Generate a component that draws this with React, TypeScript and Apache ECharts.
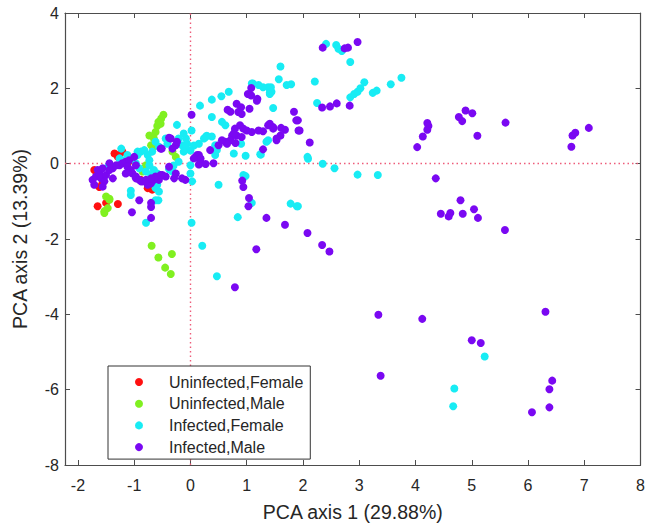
import React, { useEffect, useRef } from "react";
import * as echarts from "echarts";

const seriesNames = ["Uninfected,Female", "Uninfected,Male", "Infected,Female", "Infected,Male"];
const seriesColors = ["#ff1010", "#80f020", "#18ecf4", "#7a08f2"];

const xTicks = [-2, -1, 0, 1, 2, 3, 4, 5, 6, 7, 8];
const yTicks = [-8, -6, -4, -2, 0, 2, 4];

const uninfectedFemale: number[][] = [
  [-1.65, -1.13], [-1.5, -1.04], [-1.29, -1.07], [-1.35, 0.27], [-1.26, 0.23], [-1.21, 0.32],
  [-1.29, 0.18], [-1.71, -0.17], [-1.56, -0.5], [-1.62, -0.62], [-0.88, -0.43], [-0.76, -0.65],
  [-0.68, -0.69], [-1.1, 0.05],
];

const uninfectedMale: number[][] = [
  [-0.48, 1.3], [-0.52, 1.2], [-0.57, 1.11], [-0.59, 1.0], [-0.53, 1.06], [-0.62, 0.84],
  [-0.73, 0.75], [-0.65, 0.67], [-0.7, 0.49], [-0.65, 0.45], [-0.32, 0.32], [-0.26, 0.18],
  [-0.79, -0.04], [-0.85, -0.21], [-1.5, -0.87], [-1.44, -0.93], [-1.53, -1.26], [-1.47, -1.18],
  [-1.53, -1.31], [-1.44, -0.96], [-0.69, -2.18], [-0.57, -2.49], [-0.33, -2.4], [-0.45, -2.76],
  [-0.35, -2.93],
];

const infectedFemale: number[][] = [
  [2.41, 3.18], [2.59, 3.15], [2.63, 3.05], [2.69, 2.99], [2.84, 2.7], [2.21, 2.18], [2.25, 1.61],
  [2.84, 1.76], [2.91, 1.85], [2.97, 1.91], [3.02, 2.0], [3.09, 2.16], [3.24, 1.88], [3.31, 1.94],
  [3.56, 2.11], [3.75, 2.28], [2.09, 0.13], [2.35, 0.0], [2.56, -0.12], [2.97, -0.29], [3.33, -0.3],
  [1.91, -1.13], [5.23, -5.12], [4.69, -5.97], [4.67, -6.44], [-0.79, -1.57], [-0.57, -0.97],
  [0.02, -1.57], [0.21, -2.18], [0.47, -2.99], [0.84, -1.42], [1.09, -1.04], [1.78, -1.06],
  [1.89, -1.13], [0.94, -0.3], [0.98, -0.33], [0.5, -0.56], [0.03, -0.47], [0.77, 0.27], [0.98, 0.21],
  [1.25, 0.24], [1.6, 2.58], [1.57, 2.24], [1.71, 2.09], [1.79, 2.11], [1.38, 2.03], [1.41, 1.89],
  [1.47, 1.48], [1.38, 0.62], [2.08, 0.18], [1.09, 2.13], [1.29, 2.03], [1.43, 2.03], [1.41, 1.85],
  [0.68, 1.91], [0.55, 1.79], [0.38, 1.7], [0.17, 1.54], [1.35, 0.58], [1.24, 0.25], [0.9, 0.53],
  [0.62, 1.02], [0.38, 0.72], [0.29, 0.74], [0.24, 0.67], [0.15, 0.53], [0.06, 0.48], [0.0, 0.35],
  [-0.06, 0.53], [-0.08, 0.67], [0.02, 0.88], [-0.24, 1.03], [-0.12, 0.8], [0.44, 0.23], [-0.44, 0.67],
  [-0.62, 0.58], [-0.56, 0.45], [-0.68, 0.32], [-0.76, 0.23], [-0.88, 0.32], [-0.94, 0.23],
  [-0.82, 0.36], [-0.21, 0.05], [-0.3, -0.05], [-0.38, -0.15], [-0.32, -0.21], [-0.62, -0.65],
  [-0.56, -0.74], [-0.59, -0.56], [-0.7, -0.3], [-0.79, -0.21], [-0.62, -0.97], [-1.06, -0.72],
  [-1.06, -0.83], [-1.23, 0.4], [-1.26, 0.14], [-1.21, 0.09], [-1.12, 0.23], [-0.94, 0.32],
  [-0.97, 0.01], [-0.91, -0.12], [-0.73, -0.04], [-0.65, -0.17], [-0.59, -0.26], [-0.73, 0.09],
  [0.56, 1.11], [0.38, 1.24], [1.11, 2.13], [1.21, 2.09], [1.44, 1.91], [-0.15, 0.49], [-0.09, 0.45],
  [-0.21, 0.67], [-0.41, 0.53], [-0.12, 0.32], [0.0, -0.04], [0.0, -0.26], [0.27, 0.71], [0.44, 0.49],
  [0.47, 0.36], [-1.55, -0.38], [-1.45, -0.05],
];

const infectedMale: number[][] = [
  [2.35, 3.08], [2.74, 3.06], [2.8, 3.08], [2.97, 3.23], [2.34, 1.49], [2.48, 1.52], [2.6, 1.6],
  [2.83, 1.54], [1.91, 1.15], [1.94, 0.88], [2.12, 0.56], [4.03, 0.44], [4.13, 0.72], [4.21, 1.08],
  [4.23, 1.0], [4.21, 0.9], [4.77, 1.24], [4.83, 1.13], [4.89, 1.41], [5.01, 1.34], [5.1, 0.74],
  [5.6, 1.09], [6.77, 0.45], [6.79, 0.75], [6.84, 0.82], [7.08, 0.95], [4.36, -0.39], [4.8, -0.97],
  [4.45, -1.33], [4.59, -1.4], [4.62, -1.31], [4.84, -1.33], [5.04, -1.21], [5.11, -1.44],
  [5.59, -1.76], [2.08, -1.84], [2.34, -2.16], [2.47, -2.33], [3.34, -4.01], [4.12, -4.12],
  [6.31, -3.93], [5.0, -4.69], [5.16, -4.76], [3.38, -5.63], [6.43, -5.76], [6.38, -5.99],
  [6.38, -6.47], [6.07, -6.6], [1.03, -1.13], [1.17, -2.27], [0.79, -3.28], [1.35, -1.44],
  [1.68, -1.62], [0.92, -0.45], [0.94, -0.62], [1.04, -0.91], [0.17, 0.01], [0.27, -0.01],
  [0.41, 0.01], [0.09, 0.18], [0.15, 0.23], [1.29, 0.38], [-1.04, -1.29], [-0.91, -0.97],
  [-0.7, -1.04], [-0.7, -1.15], [-0.7, -1.44], [1.84, 1.38], [1.88, 1.15], [1.92, 0.88], [1.41, 1.06],
  [1.47, 0.97], [1.61, 0.95], [1.68, 0.9], [1.6, 0.75], [1.53, 0.62], [1.08, 2.01], [1.02, 1.85],
  [1.08, 1.81], [1.19, 1.72], [1.18, 1.67], [0.02, 1.3], [0.82, 1.59], [0.9, 1.5], [0.85, 1.37],
  [0.91, 1.32], [0.66, 1.43], [0.71, 1.38], [1.05, 1.46], [0.79, 0.93], [0.88, 1.02], [0.94, 0.93],
  [1.0, 0.88], [0.82, 0.75], [0.74, 0.75], [0.91, 0.71], [1.09, 0.84], [1.21, 0.88], [1.29, 0.86],
  [1.38, 1.02], [1.47, 0.93], [1.53, 0.67], [0.77, 0.8], [0.8, 0.55], [0.71, 0.62], [0.62, 0.58],
  [0.5, 0.49], [0.35, 0.36], [0.65, 0.53], [0.56, 0.62], [-0.38, 0.69], [-0.26, 0.49], [-0.24, 0.58],
  [-0.32, 0.4], [-0.53, 0.4], [-0.35, 0.67], [-0.51, 0.4], [0.12, 0.23], [0.18, 0.14], [0.06, 0.14],
  [0.15, -0.02], [-0.38, -0.08], [-0.26, -0.26], [-0.15, -0.39], [-0.09, -0.43], [-0.29, -0.39],
  [-0.5, -0.3], [-0.56, -0.43], [-0.65, -0.43], [-0.7, -0.52], [-0.78, -0.46], [-0.88, -0.47],
  [-0.97, -0.39], [-0.76, -0.56], [-0.44, -0.34], [-0.62, -0.34], [-0.53, -0.3], [-1.74, -0.43],
  [-1.71, -0.56], [-1.68, -0.34], [-1.62, -0.26], [-1.65, -0.17], [-1.56, -0.12], [-1.59, -0.39],
  [-1.53, -0.47], [-1.56, -0.61], [-1.5, -0.3], [-1.44, -0.17], [-1.38, -0.12], [-1.32, -0.04],
  [-1.26, -0.04], [-1.21, 0.01], [-1.15, 0.05], [-1.09, 0.09], [-1.12, -0.08], [-1.06, -0.17],
  [-1.03, -0.26], [-0.97, -0.34], [-0.91, -0.43], [-0.85, -0.47], [-0.79, -0.43], [-0.7, -0.39],
  [-1.15, -0.26], [-1.38, -0.39], [-1.44, 0.01], [-1.0, 0.18], [-0.97, -0.04],
];

const allSeries = [uninfectedFemale, uninfectedMale, infectedFemale, infectedMale];

const FONT = "'Liberation Sans', Arial, sans-serif";
const TXT = "#262626";
const FRAME = "#4d4d4d";

export default function App() {
  const ref = useRef<HTMLDivElement>(null);
  useEffect(() => {
    if (!ref.current) return;
    const chart = echarts.init(ref.current, null, { renderer: "svg" });
    const xMin = -2.23;
    const xMax = 8;
    const yMin = -8;
    const yMax = 4;
    const commonTick = { show: true, inside: true, length: 5, lineStyle: { color: FRAME, width: 1 } };
    const axisLine = { show: true, onZero: false, lineStyle: { color: FRAME, width: 1.2 } };
    chart.setOption({
      animation: false,
      backgroundColor: "#fff",
      textStyle: { fontFamily: FONT },
      grid: { left: 65, right: 3, top: 13, bottom: 57, containLabel: false },
      legend: {
        orient: "vertical",
        left: 108,
        top: 366,
        data: seriesNames.map((n) => ({ name: n, icon: "circle" })),
        itemWidth: 50,
        itemHeight: 8,
        itemGap: 3.7,
        padding: [7, 7, 3, 27],
        backgroundColor: "#fff",
        borderColor: "#333",
        borderWidth: 1,
        borderRadius: 0,
        textStyle: { fontSize: 16, color: TXT, fontFamily: FONT, lineHeight: 18 },
        selectedMode: false,
        z: 10,
      },
      xAxis: [
        {
          type: "value",
          min: xMin,
          max: xMax,
          position: "bottom",
          name: "PCA axis 1 (29.88%)",
          nameLocation: "middle",
          nameGap: 37,
          nameTextStyle: { fontSize: 19.5, color: TXT, fontFamily: FONT },
          axisLine,
          axisTick: { ...commonTick, customValues: xTicks },
          axisLabel: { customValues: xTicks, fontSize: 16, color: TXT, margin: 12, fontFamily: FONT },
          splitLine: { show: false },
        },
        {
          type: "value",
          min: xMin,
          max: xMax,
          position: "top",
          axisLine,
          axisTick: { ...commonTick, customValues: xTicks },
          axisLabel: { show: false },
          splitLine: { show: false },
        },
      ],
      yAxis: [
        {
          type: "value",
          min: yMin,
          max: yMax,
          position: "left",
          name: "PCA axis 2 (13.39%)",
          nameLocation: "middle",
          nameGap: 35,
          nameTextStyle: { fontSize: 19.5, color: TXT, fontFamily: FONT },
          axisLine,
          axisTick: { ...commonTick, customValues: yTicks },
          axisLabel: { customValues: yTicks, fontSize: 16, color: TXT, margin: 6, fontFamily: FONT },
          splitLine: { show: false },
        },
        {
          type: "value",
          min: yMin,
          max: yMax,
          position: "right",
          axisLine,
          axisTick: { ...commonTick, customValues: yTicks },
          axisLabel: { show: false },
          splitLine: { show: false },
        },
      ],
      series: allSeries.map((data, i) => ({
        name: seriesNames[i],
        type: "scatter",
        xAxisIndex: 0,
        yAxisIndex: 0,
        data,
        symbol: "circle",
        symbolSize: 8,
        itemStyle: { color: seriesColors[i], opacity: 1 },
        emphasis: { disabled: true },
        markLine:
          i === 0
            ? {
                silent: true,
                symbol: "none",
                label: { show: false },
                lineStyle: { color: "#ee5c7a", type: [1.5, 3], width: 1.4 },
                data: [{ xAxis: 0 }, { yAxis: 0 }],
                z: 1,
              }
            : undefined,
      })),
    });
    return () => chart.dispose();
  }, []);
  return <div ref={ref} style={{ width: 648, height: 527, position: "absolute", left: 0, top: 0 }} />;
}
